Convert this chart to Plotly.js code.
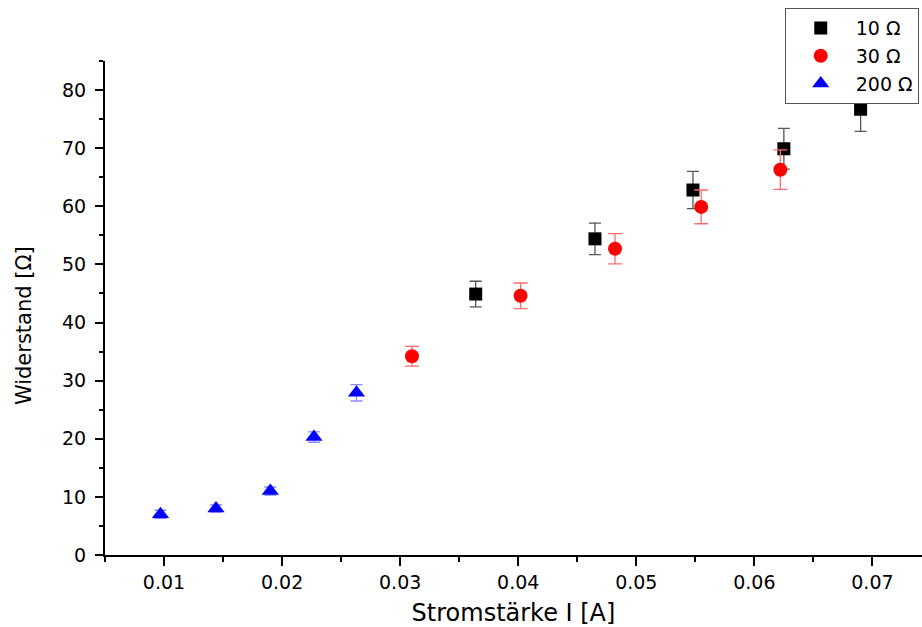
<!DOCTYPE html>
<html>
<head>
<meta charset="utf-8">
<script src="https://cdn.plot.ly/plotly-3.0.1.min.js"></script>
<style>html,body{margin:0;padding:0;background:#fff;}#chart{width:922px;height:627px;}</style>
</head>
<body>
<div id="chart"></div>
<script>
// Series: 10 Ω
var x10 = [0.0364, 0.0465, 0.0548, 0.0625, 0.0690];
var y10 = [44.9, 54.4, 62.8, 69.9, 76.7];
var e10 = [2.2, 2.7, 3.2, 3.5, 3.8];
// Series: 30 Ω
var x30 = [0.0310, 0.0402, 0.0482, 0.0555, 0.0622];
var y30 = [34.2, 44.6, 52.7, 59.9, 66.3];
var e30 = [1.7, 2.2, 2.6, 2.9, 3.4];
// Series: 200 Ω
var x200 = [0.0097, 0.0144, 0.0190, 0.0227, 0.0263];
var y200 = [7.0, 8.0, 11.0, 20.3, 27.9];
var e200 = [0.7, 0.6, 0.7, 0.9, 1.4];

var names = ["10 \u03A9", "30 \u03A9", "200 \u03A9"];
var xTickVals = [0.01, 0.02, 0.03, 0.04, 0.05, 0.06, 0.07];
var xTickText = ["0.01", "0.02", "0.03", "0.04", "0.05", "0.06", "0.07"];
var yTickVals = [0, 10, 20, 30, 40, 50, 60, 70, 80];
var xTitle = "Stromst\u00e4rke I [A]";
var yTitle = "Widerstand [\u03A9]";

var font = "'DejaVu Sans', Verdana, sans-serif";

var traces = [
  {x: x10, y: y10, name: names[0], type: "scatter", mode: "markers",
   marker: {symbol: "square", size: 13, color: "#000000"},
   error_y: {type: "data", array: e10, visible: true, color: "#555555", thickness: 1.3, width: 6}},
  {x: x30, y: y30, name: names[1], type: "scatter", mode: "markers",
   marker: {symbol: "circle", size: 14, color: "#ff0000"},
   error_y: {type: "data", array: e30, visible: true, color: "#ff6b6b", thickness: 1.3, width: 7}},
  {x: x200, y: y200, name: names[2], type: "scatter", mode: "markers",
   marker: {symbol: "triangle-up", size: 15, color: "#0000ff"},
   error_y: {type: "data", array: e200, visible: true, color: "#8a8aff", thickness: 1.3, width: 6}}
];

var layout = {
  width: 922, height: 627,
  margin: {l: 105, r: 0, t: 61, b: 72, pad: 0},
  paper_bgcolor: "#ffffff", plot_bgcolor: "#ffffff",
  font: {family: font, color: "#000000", size: 19},
  showlegend: true,
  legend: {
    x: 0.996, y: 1.107, xanchor: "right", yanchor: "top",
    bordercolor: "#555555", borderwidth: 1, bgcolor: "#ffffff",
    font: {family: font, size: 19, color: "#000000"},
    itemwidth: 60, tracegroupgap: 0
  },
  xaxis: {
    range: [0.005, 0.0742], showgrid: false, zeroline: false,
    showline: true, linecolor: "#000000", linewidth: 2,
    tickmode: "array", tickvals: xTickVals, ticktext: xTickText,
    ticks: "outside", ticklen: 9, tickwidth: 2, tickcolor: "#000000",
    minor: {dtick: 0.005, tick0: 0.005, ticks: "outside", ticklen: 5, tickwidth: 2, tickcolor: "#000000", showgrid: false},
    tickfont: {family: font, size: 19},
    title: {text: xTitle, font: {family: font, size: 24}, standoff: 13}
  },
  yaxis: {
    range: [0, 85], showgrid: false, zeroline: false,
    showline: true, linecolor: "#000000", linewidth: 2,
    tickmode: "array", tickvals: yTickVals,
    ticks: "outside", ticklen: 8, tickwidth: 2, tickcolor: "#000000",
    ticklabelstandoff: 5,
    minor: {dtick: 5, tick0: 0, ticks: "outside", ticklen: 4, tickwidth: 2, tickcolor: "#000000", showgrid: false},
    tickfont: {family: font, size: 19}
  },
  annotations: [{
    text: yTitle, xref: "paper", yref: "paper",
    x: -0.099, y: 0.4636, xanchor: "center", yanchor: "middle",
    textangle: -90, showarrow: false,
    font: {family: font, size: 21, color: "#000000"}
  }]
};

Plotly.newPlot("chart", traces, layout, {displayModeBar: false, staticPlot: true});
</script>
</body>
</html>
